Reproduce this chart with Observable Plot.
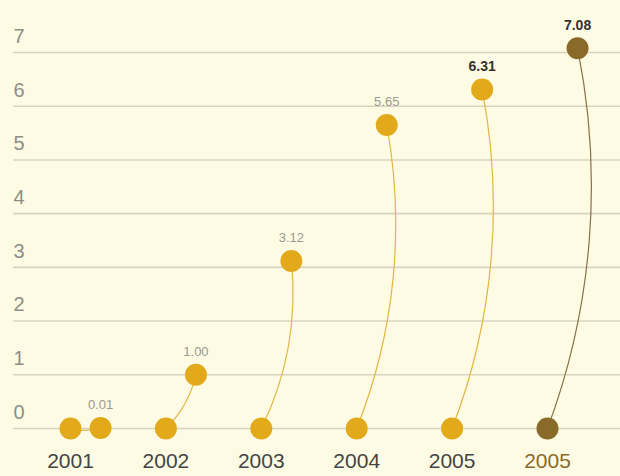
<!DOCTYPE html>
<html>
<head>
<meta charset="utf-8">
<script src="https://cdn.jsdelivr.net/npm/d3@7"></script>
<script src="https://cdn.jsdelivr.net/npm/@observablehq/plot@0.6"></script>
<style>
  html, body { margin: 0; padding: 0; background: #fdfbe4; }
</style>
</head>
<body>
<div id="chart"></div>
<script>
const labels = ["2001", "2002", "2003", "2004", "2005", "2005"];
const values = [0.01, 1.00, 3.12, 5.65, 6.31, 7.08];
const yTicks = [0, 1, 2, 3, 4, 5, 6, 7];
const highlightIndex = 5;

const topShift = 0.315; // horizontal offset (in category units) of the top dot

const data = labels.map((label, i) => ({ i, label, v: values[i], hi: i === highlightIndex }));

const gold = "#e2a91b";
const goldLine = "#e2b640";
const brown = "#8a6a28";
const brownLine = "#8a7048";

const chart = Plot.plot({
  width: 620,
  height: 476,
  marginTop: 52,
  marginBottom: 48,
  marginLeft: 13,
  marginRight: 0,
  x: { domain: [0, 5], range: [70, 547], axis: null },
  y: { domain: [0, 7], axis: null },
  style: { background: "#fdfbe4", fontFamily: "'Liberation Sans', Arial, sans-serif" },
  marks: [
    Plot.ruleY(yTicks, { y: d => d, stroke: "#d8d4be", strokeWidth: 1.6 }),
    Plot.text(yTicks, {
      y: d => d, text: d => String(d), frameAnchor: "left", textAnchor: "start",
      dx: 0, dy: -16, fontSize: 20, fill: "#8e8e86"
    }),
    Plot.arrow(data, {
      x1: "i", y1: () => 0, x2: d => d.i + topShift, y2: "v",
      bend: -16, headLength: 0, strokeWidth: 1.2,
      stroke: d => d.hi ? brownLine : goldLine
    }),
    Plot.dot(data, { x: "i", y: () => 0, r: 11, fill: d => d.hi ? brown : gold, stroke: "none" }),
    Plot.dot(data, { x: d => d.i + topShift, y: "v", r: 11, fill: d => d.hi ? brown : gold, stroke: "none" }),
    Plot.text(data.filter(d => d.i < 4), {
      x: d => d.i + topShift, y: "v", text: d => d.v.toFixed(2),
      dy: -23, fontSize: 13, fill: "#9a9a90"
    }),
    Plot.text(data.filter(d => d.i >= 4), {
      x: d => d.i + topShift, y: "v", text: d => d.v.toFixed(2),
      dy: -23, fontSize: 14, fontWeight: "bold", fill: "#333333"
    }),
    Plot.text(data, {
      x: "i", text: "label", frameAnchor: "bottom", dy: 39, fontSize: 21,
      fill: d => d.hi ? "#8a6a28" : "#444444",
      fontWeight: d => d.hi ? "bold" : "normal"
    })
  ]
});

document.getElementById("chart").appendChild(chart);
</script>
</body>
</html>
